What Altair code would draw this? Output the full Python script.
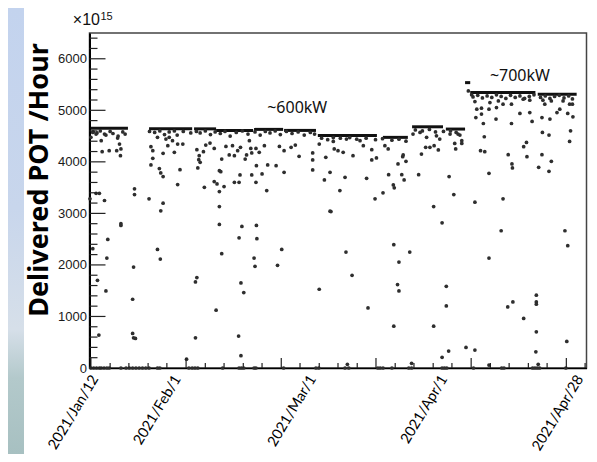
import altair as alt
import pandas as pd

# Delivered POT per hour (units of 1e15) vs. time (days since 2021-01-12)
scatter_day = [
    # Jan 12 - Jan 20
    0.3, 0.7, 1.4, 2.5, 2.7, 3.2, 4.2, 6.0, 6.4, 5.8, 6.7, 6.6, 0.1, 1.4, 2.1, 3.2, 6.7, 9.6, 9.6,
    6.7, 3.9, 0.7, 3.7, 1.7, 3.5, 2.0, 9.4, 9.2, 9.2, 9.4, 9.8,
    0.8, 1.6, 2.3, 3.5, 4.4, 5.0, 6.1, 7.1, 7.6,
    # Jan 24 - Feb 2
    13.1, 13.5, 13.5, 13.1, 12.7, 14.9, 15.2, 15.7, 15.7, 15.2, 15.7, 14.5, 16.3, 16.7, 17.0, 18.1,
    18.8, 19.3, 18.8, 19.9, 17.7, 14.5, 15.1, 20.7,
    12.8, 13.9, 15.0, 16.0, 17.0, 18.1, 18.7, 20.0, 21.6,
    # Feb 3 - Mar 5
    22.9, 23.4, 23.3, 23.6, 23.1, 24.5, 24.3, 24.8, 25.7, 26.6, 26.6, 27.2, 27.7, 28.0, 27.7, 27.7,
    28.2, 28.7, 29.1, 29.8, 30.5, 30.9, 30.9, 31.9, 32.1, 31.6, 32.2, 33.2, 33.5, 34.1, 34.4, 34.6,
    34.6, 35.5, 35.6, 35.5, 36.2, 36.8, 37.3, 38.0, 37.8, 39.8, 40.5, 41.5, 41.5, 43.0, 43.9, 44.7,
    47.6, 47.6, 47.6, 50.4, 50.1, 51.5, 52.2, 49.0,
    27.7, 28.2, 22.6, 22.9, 22.6, 27.0, 31.9, 32.5, 32.3, 32.9, 31.8, 32.3, 35.6, 35.7, 35.1, 35.3,
    41.0, 40.1, 49.0,
    22.8, 23.6, 24.7, 25.8, 26.8, 27.9, 28.9, 30.0, 31.3, 32.6, 33.8, 35.3, 36.4, 37.5, 38.5, 39.6,
    40.7, 42.0, 43.2, 44.5, 45.8, 47.1, 48.0, 49.5, 50.8, 52.0,
    # Mar 5 - Apr 2
    51.3, 53.4, 54.5, 51.3, 53.0, 54.1, 56.2, 59.1, 60.2, 60.2, 61.2, 60.9, 62.6, 63.8, 64.8, 65.0,
    66.6, 67.1, 65.8, 66.8, 67.5, 66.9, 70.2, 70.8, 71.7, 72.6, 73.5, 74.4, 76.7, 77.7, 73.4, 77.9,
    78.1, 79.4, 71.9, 74.7,
    54.7, 56.0, 59.4, 64.9, 66.0, 65.7, 66.0, 64.9, 68.3, 75.2, 76.1, 76.1, 73.4, 75.2, 76.6, 80.3,
    55.0, 68.7,
    52.0, 54.8, 57.7, 58.4, 63.0, 63.7, 69.0, 70.5, 74.0, 76.9, 78.6, 79.4,
    53.5, 55.5, 57.0, 59.0, 61.0, 62.5, 64.5, 66.0, 67.5, 69.5, 71.0, 72.5, 73.8, 75.5, 77.0, 78.2, 79.0,
    # Apr 2 - Apr 28
    82.2, 85.2, 83.4, 84.3, 84.2, 84.0, 82.6, 83.6, 82.4, 88.2, 89.3, 90.1, 90.2, 90.0, 86.7, 85.2,
    86.8, 91.8, 93.2, 92.6, 93.3, 94.4, 93.9, 95.8, 96.5, 98.0, 98.5, 96.6, 98.0, 96.5, 98.2, 99.7,
    102.4, 102.6, 102.0, 103.1, 102.4, 97.1, 100.3, 88.2, 90.0, 82.2, 83.6, 85.4, 87.2, 92.5, 93.9,
    96.7, 98.5, 101.0, 103.0, 80.8, 81.5,
    82.2, 87.8, 85.2, 89.2, 90.3, 92.6, 95.3, 95.3, 95.3, 95.3, 95.2, 101.4, 102.0, 101.8, 85.2, 95.7,
    81.8, 82.8, 83.8, 84.8, 85.8, 86.8, 87.8, 88.8, 89.8, 90.8, 91.8, 92.8, 93.8, 94.8, 96.2, 97.2,
    98.2, 99.2, 100.2, 101.2, 102.2, 103.0,
]
scatter_pot = [
    4475, 4570, 4540, 4410, 4197, 4540, 4217, 4462, 4346, 4217, 4250, 4120, 3282, 3390, 3390, 3250, 2800, 3476, 3366,
    2766, 2495, 2315, 2133, 1702, 1495, 638, 1959, 1334, 671, 586, 574,
    4580, 4560, 4600, 4520, 4590, 4550, 4500, 4580, 4540,
    4294, 4217, 4068, 3940, 3282, 3869, 3785, 3714, 4165, 3050, 3198, 4475, 4443, 4313, 4475, 4185,
    4346, 3849, 3560, 4346, 4410, 2301, 2114, 170,
    4590, 4570, 4600, 4530, 4580, 4600, 4520, 4590, 4560,
    4235, 4120, 4042, 3991, 3881, 3507, 4197, 4326, 4365, 4261, 3617, 3572, 3829, 3810, 3423, 3133,
    4055, 3520, 4300, 4133, 4313, 4120, 3604, 3604, 3746, 4217, 4281, 4055, 4133, 4410, 4261, 3746,
    4172, 3604, 3926, 4261, 4185, 3765, 4313, 3940, 3443, 3926, 4300, 4217, 3797, 4281, 4326, 4107,
    4172, 4036, 3843, 4088, 3649, 3036, 4250, 4346,
    2785, 2218, 1669, 1754, 586, 1122, 2527, 2746, 1650, 1464, 619, 238, 2766, 2508, 2133, 1972,
    2301, 1992, 1528,
    4590, 4560, 4600, 4530, 4580, 4550, 4590, 4500, 4570, 4600, 4540, 4580, 4520, 4590, 4560, 4600,
    4530, 4590, 4550, 4580, 4520, 4570, 4540, 4460, 4430, 4470,
    3797, 3443, 3700, 3043, 4217, 4185, 4120, 3681, 4235, 4036, 4075, 3282, 3398, 3752, 3553, 3495,
    3752, 3649, 3959, 4100, 4010, 4133, 3752, 4152, 4281, 4281, 4313, 4230, 3714, 3365, 3133, 4358,
    4250, 4358, 4475, 4443,
    2250, 1799, 1166, 2392, 2056, 1619, 1495, 812, 2250, 2818, 1586, 1205, 812, 207, 329, 400,
    71, 90,
    4397, 4443, 4410, 4313, 4313, 4250, 4540, 4570, 4506, 4540, 4540, 4410,
    4460, 4470, 4440, 4460, 4430, 4450, 4420, 4440, 4400, 4620, 4600, 4630, 4580, 4590, 4600, 4570, 4520,
    3217, 3777, 4217, 4197, 4487, 4744, 5022, 4926, 4860, 3282, 4139, 3959, 3881, 4744, 4829, 5022,
    5054, 4939, 4377, 4294, 4100, 4783, 4957, 3893, 4139, 3816, 4010, 4570, 4520, 4860, 4829, 4957,
    4397, 4603, 4939, 4874, 5119, 5119, 5022, 5119, 5119, 5170, 5041, 5151, 5183, 5216, 5196,
    5196, 5183, 5183, 5119, 5377, 5300,
    348, 2663, 2133, 1186, 1282, 961, 1412, 1282, 1238, 702, 315, 2663, 2373, 516, 58, 71,
    5260, 5290, 5240, 5280, 5250, 5300, 5270, 5230, 5290, 5250, 5280, 5230, 5270, 5300, 5250, 5280,
    5230, 5270, 5290, 5240, 5280, 5220,
]
# hours with no beam (value 0)
zero_day = [0.3, 0.9, 1.5, 2.1, 2.5, 3.1, 3.7, 4.2, 6.7, 7.8, 8.5, 9.2, 9.9, 10.6, 11.3, 12.0, 12.7,
            14.5, 15.0, 21.2, 21.9, 22.5, 23.1, 28.4, 31.9, 32.4, 32.9, 35.1, 35.5, 41.4, 48.3, 48.9,
            54.5, 55.3, 61.5, 62.0, 62.6, 64.5, 68.1, 68.7, 75.2, 75.7, 76.2, 81.9, 87.9, 88.4,
            94.5, 95.0, 95.5, 96.0, 101.6]
# dense stable-operation levels
plateau_start = [0.3, 12.7, 22.3, 27.0, 35.1, 41.5, 48.7, 62.6, 68.8, 76.0, 80.1, 81.2, 95.6]
plateau_end = [8.2, 21.9, 27.0, 34.9, 41.3, 48.3, 61.3, 67.9, 75.4, 80.1, 81.2, 95.1, 103.9]
plateau_pot = [4650, 4640, 4640, 4610, 4630, 4610, 4510, 4475, 4680, 4636, 5537, 5344, 5312]

y_major = [0, 1000, 2000, 3000, 4000, 5000, 6000]
y_minor = [200, 400, 600, 800, 1200, 1400, 1600, 1800, 2200, 2400, 2600, 2800, 3200, 3400, 3600, 3800,
           4200, 4400, 4600, 4800, 5200, 5400, 5600, 5800, 6200, 6400]
x_major = [0.3, 20.6, 40.9, 61.1, 81.4, 101.7]
x_minor = [4.4, 8.4, 12.5, 16.5, 24.7, 28.7, 32.8, 36.8, 44.9, 49.0, 53.0, 57.1, 65.2, 69.2, 73.3,
           77.3, 85.5, 89.5, 93.6, 97.6, 105.7]

date_labels = ["2021/Jan/12", "2021/Feb/1", "2021/Mar/1", "2021/Apr/1", "2021/Apr/28"]
date_label_day = [0.0, 17.6, 46.4, 74.4, 103.4]
power_labels = ["~600kW", "~700kW"]
power_label_day = [44.3, 91.8]
power_label_pot = [5048, 5657]

W, H = 497, 335

xs = alt.Scale(domain=[0, 106], nice=False, zero=False)
ys = alt.Scale(domain=[0, 6500], nice=False, zero=False)
x_axis = alt.Axis(labels=False, ticks=False, domain=True, domainColor="#000", domainWidth=1.5,
                  title=None, grid=False)
y_axis = alt.Axis(values=y_major, format="d", ticks=False, domain=True, domainColor="#000",
                  domainWidth=2, title=None, grid=False, labelFont="Liberation Sans",
                  labelFontSize=13, labelColor="#1a1a1a", labelPadding=3)

X = alt.X("day:Q", scale=xs, axis=x_axis)
Y = alt.Y("pot:Q", scale=ys, axis=y_axis)

pts = pd.DataFrame({"day": scatter_day + zero_day,
                    "pot": scatter_pot + [0] * len(zero_day)})
plat = pd.DataFrame({"day": plateau_start, "day_end": plateau_end, "pot": plateau_pot})
one = pd.DataFrame({"k": [0]})

strip = alt.Chart(one).mark_rect(
    color=alt.Gradient(gradient="linear", x1=0, x2=0, y1=0, y2=1,
                       stops=[alt.GradientStop(color="#c3d3ee", offset=0),
                              alt.GradientStop(color="#c8d6ec", offset=0.45),
                              alt.GradientStop(color="#d6dfe9", offset=0.72),
                              alt.GradientStop(color="#b3c9cb", offset=0.83),
                              alt.GradientStop(color="#a7c0c1", offset=1)])
).encode(x=alt.value(-81.5), x2=alt.value(-65.5), y=alt.value(-25), y2=alt.value(421))

points = alt.Chart(pts).mark_circle(size=14, color="#2e2e2e", opacity=1).encode(x=X, y=Y)
plateaus = alt.Chart(plat).mark_rule(color="#111", strokeWidth=3).encode(
    x=X, x2="day_end:Q", y=Y)

ymaj = alt.Chart(pd.DataFrame({"pot": y_major})).mark_rule(color="#222", strokeWidth=1.2).encode(
    y=Y, x=alt.value(0), x2=alt.value(16))
ymin = alt.Chart(pd.DataFrame({"pot": y_minor})).mark_rule(color="#222", strokeWidth=1.2).encode(
    y=Y, x=alt.value(0), x2=alt.value(8))
xmaj = alt.Chart(pd.DataFrame({"day": x_major})).mark_rule(color="#222", strokeWidth=1.2).encode(
    x=X, y=alt.value(H), y2=alt.value(H - 10))
xmin = alt.Chart(pd.DataFrame({"day": x_minor})).mark_rule(color="#222", strokeWidth=1.2).encode(
    x=X, y=alt.value(H), y2=alt.value(H - 5))

dates = alt.Chart(pd.DataFrame({"day": date_label_day, "txt": date_labels})).mark_text(
    font="Lato", fontSize=14.5, angle=301, align="right", baseline="top", color="#000"
).encode(x=X, y=alt.value(340), text="txt:N")

power = alt.Chart(pd.DataFrame({"day": power_label_day, "pot": power_label_pot, "txt": power_labels})).mark_text(
    font="Noto Sans", fontSize=16, align="center", baseline="middle", color="#111"
).encode(x=X, y=Y, text="txt:N")

ytitle = alt.Chart(one).mark_text(
    font="Noto Sans", fontSize=27, fontWeight="bold", angle=270, align="center",
    baseline="middle", color="#000"
).encode(x=alt.value(-49.5), y=alt.value(147), text=alt.value("Delivered POT /Hour"))

times10 = alt.Chart(one).mark_text(
    font="Liberation Sans", fontSize=16, align="right", baseline="alphabetic", color="#111"
).encode(x=alt.value(10.5), y=alt.value(-8), text=alt.value("×10"))
exp15 = alt.Chart(one).mark_text(
    font="Liberation Sans", fontSize=11, align="left", baseline="alphabetic", color="#111"
).encode(x=alt.value(11), y=alt.value(-13), text=alt.value("15"))

chart = alt.layer(
    strip, plateaus, points, ymaj, ymin, xmaj, xmin, dates, power, ytitle, times10, exp15
).properties(
    width=W, height=H,
    autosize=alt.AutoSizeParams(type="none"),
    padding={"left": 81.5, "top": 25, "right": 2, "bottom": 86},
).configure_view(stroke="#444", strokeWidth=1.5)

chart.save("out.html", embed_options={"renderer": "svg", "actions": False})
